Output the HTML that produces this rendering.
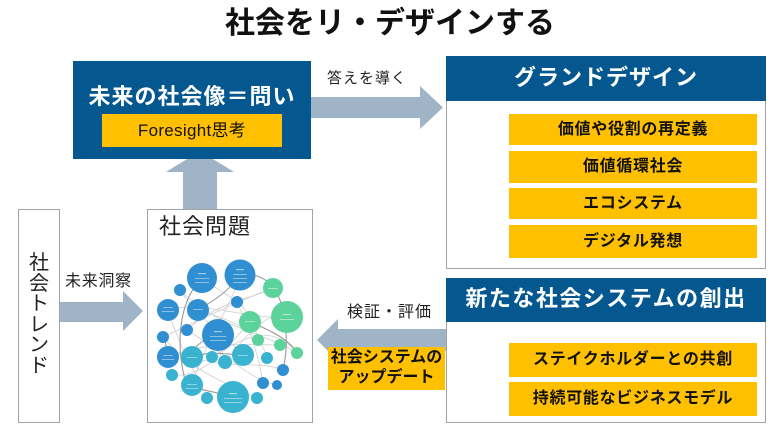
<!DOCTYPE html>
<html><head><meta charset="utf-8">
<style>
html,body{margin:0;padding:0;background:#fff;}
body{width:780px;height:429px;position:relative;overflow:hidden;font-family:"Liberation Sans","Noto Sans CJK JP",sans-serif;}
.a{position:absolute;white-space:nowrap;}
.t{text-align:center;}
.blue{background:#04588f;}
.yel{background:#ffc000;}
.box{position:absolute;border:1px solid #a3a3a3;box-sizing:border-box;background:#fff;}
.bar{position:absolute;left:509px;width:248px;background:#ffc000;text-align:center;font-weight:bold;font-size:16px;letter-spacing:0.7px;color:#111;}
</style></head><body>

<div class="a t" style="left:0;width:780px;top:6px;font-size:30px;line-height:36px;font-weight:bold;color:#111;">社会をリ・デザインする</div>

<!-- Grand design box -->
<div class="box" style="left:446px;top:56px;width:320px;height:213px;"></div>
<div class="a blue t" style="left:446px;top:56px;width:320px;height:45px;line-height:44px;color:#fff;font-weight:bold;font-size:22px;letter-spacing:1px;">グランドデザイン</div>
<div class="bar" style="top:114px;height:31px;line-height:31px;">価値や役割の再定義</div>
<div class="bar" style="top:151px;height:32px;line-height:32px;">価値循環社会</div>
<div class="bar" style="top:188px;height:31px;line-height:31px;">エコシステム</div>
<div class="bar" style="top:225px;height:33px;line-height:33px;">デジタル発想</div>

<!-- New social system box -->
<div class="box" style="left:446px;top:278px;width:320px;height:145px;"></div>
<div class="a blue t" style="left:446px;top:278px;width:320px;height:44px;line-height:42px;color:#fff;font-weight:bold;font-size:22px;letter-spacing:1.5px;">新たな社会システムの創出</div>
<div class="bar" style="top:343px;height:34px;line-height:34px;">ステイクホルダーとの共創</div>
<div class="bar" style="top:382px;height:34px;line-height:34px;">持続可能なビジネスモデル</div>

<!-- Social trend box -->
<div class="box" style="left:18px;top:209px;width:42px;height:214px;"></div>
<div class="a t" style="left:18px;width:42px;top:253px;font-size:20px;line-height:20.5px;color:#222;white-space:normal;">社<br>会<br>ト<br>レ<br>ン<br>ド</div>

<!-- Social problem box -->
<div class="box" style="left:147px;top:209px;width:166px;height:214px;"></div>
<div class="a" style="left:159px;top:213px;font-size:22px;line-height:28px;color:#222;letter-spacing:1px;">社会問題</div>

<svg class="a" style="left:0;top:0;" width="780" height="429" viewBox="0 0 780 429">
  <g fill="#9fb4c6">
    <polygon points="311,97 420,97 420,86 443,107.5 420,129 420,118 311,118"/>
    <polygon points="183,209 183,172 166,172 200,151 234,172 217,172 217,209"/>
    <polygon points="60,302 123,302 123,291 143,311 123,331 123,322 60,322"/>
    <polygon points="446,329 338,329 338,319 317,340 338,361 338,351 446,351"/>
  </g>
  <!-- network lines -->
  <g fill="none" stroke="#cfcfcf" stroke-width="0.8">
    <path d="M168,310 C200,300 250,320 287,317"/>
    <path d="M180,290 C220,330 260,330 297,353"/>
    <path d="M163,337 C200,320 240,300 273,288"/>
    <path d="M168,357 C210,340 250,345 280,345"/>
    <path d="M192,357 C230,370 260,360 283,370"/>
    <path d="M172,375 C210,380 240,330 250,322"/>
    <path d="M187,330 C220,350 250,380 277,385"/>
    <path d="M202,278 C230,300 250,300 258,340"/>
    <path d="M240,275 C230,310 210,330 192,385"/>
    <path d="M163,337 C190,370 220,380 257,398"/>
    <path d="M198,310 C230,320 260,330 267,358"/>
    <path d="M212,357 C240,340 270,320 297,353"/>
    <path d="M225,362 C250,330 270,310 287,317"/>
    <path d="M168,310 C180,350 200,380 207,398"/>
    <path d="M237,302 C250,330 260,360 263,383"/>
    <path d="M180,290 C200,320 230,340 243,355"/>
    <path d="M273,288 C250,300 220,300 187,330"/>
  </g>
  <g fill="none" stroke="#9a9a9a" stroke-width="1.1">
    <path d="M202,278 C180,300 175,340 185,380"/>
    <path d="M240,275 C270,270 280,300 273,288"/>
    <path d="M250,322 C270,330 290,340 297,353"/>
    <path d="M192,357 C210,350 230,355 243,355"/>
    <path d="M233,397 C210,390 195,390 192,385"/>
    <path d="M168,357 C165,345 165,330 163,337"/>
    <path d="M218,335 C200,340 190,350 192,357"/>
    <path d="M273,288 C285,300 290,340 283,370"/>
    <path d="M240,275 C230,290 215,300 198,310"/>
  </g>
  <!-- circles -->
  <g fill="#2f8fd0">
    <circle cx="202" cy="278" r="15"/>
    <circle cx="240" cy="275" r="15.5"/>
    <circle cx="180" cy="290" r="6"/>
    <circle cx="168" cy="310" r="11"/>
    <circle cx="198" cy="310" r="11"/>
    <circle cx="237" cy="302" r="6"/>
    <circle cx="218" cy="335" r="16"/>
    <circle cx="187" cy="330" r="6"/>
    <circle cx="163" cy="337" r="6"/>
    <circle cx="168" cy="357" r="11"/>
    <circle cx="263" cy="383" r="6"/>
    <circle cx="283" cy="370" r="6"/>
    <circle cx="277" cy="385" r="5"/>
  </g>
  <g fill="#39b3cf">
    <circle cx="192" cy="357" r="11"/>
    <circle cx="212" cy="357" r="6"/>
    <circle cx="225" cy="362" r="7"/>
    <circle cx="243" cy="355" r="11"/>
    <circle cx="267" cy="358" r="6"/>
    <circle cx="172" cy="375" r="6"/>
    <circle cx="192" cy="385" r="11"/>
    <circle cx="233" cy="397" r="16"/>
    <circle cx="207" cy="398" r="6"/>
    <circle cx="257" cy="398" r="6"/>
  </g>
  <g fill="#5cd39a">
    <circle cx="273" cy="288" r="10"/>
    <circle cx="287" cy="317" r="16"/>
    <circle cx="250" cy="322" r="11"/>
    <circle cx="258" cy="340" r="6"/>
    <circle cx="280" cy="345" r="6"/>
    <circle cx="297" cy="353" r="6"/>
  </g>
  <!-- tiny labels -->
  <g fill="#ffffff" opacity="0.55">
    <rect x="198" y="273" width="8" height="1.2"/><rect x="195" y="278" width="14" height="0.8"/><rect x="195" y="282" width="14" height="0.8"/>
    <rect x="236" y="269" width="8" height="1.2"/><rect x="233" y="274" width="14" height="0.8"/><rect x="233" y="278" width="14" height="0.8"/><rect x="233" y="282" width="14" height="0.8"/>
    <rect x="214" y="331" width="8" height="1.2"/><rect x="210" y="336" width="16" height="0.8"/><rect x="210" y="340" width="16" height="0.8"/>
    <rect x="229" y="393" width="8" height="1.2"/><rect x="224" y="398" width="18" height="0.8"/><rect x="224" y="402" width="18" height="0.8"/>
    <rect x="283" y="314" width="8" height="1"/><rect x="280" y="319" width="14" height="0.8"/>
    <rect x="163" y="307" width="10" height="0.8"/><rect x="162" y="311" width="12" height="0.8"/>
    <rect x="193" y="309" width="10" height="0.8"/>
    <rect x="163" y="355" width="10" height="0.8"/><rect x="162" y="359" width="12" height="0.8"/>
    <rect x="187" y="357" width="10" height="0.8"/>
    <rect x="238" y="355" width="10" height="0.8"/>
    <rect x="187" y="384" width="10" height="0.8"/><rect x="186" y="388" width="12" height="0.8"/>
    <rect x="245" y="321" width="10" height="0.8"/>
    <rect x="268" y="288" width="10" height="0.8"/>
  </g>
</svg>

<!-- top-left blue box -->
<div class="a blue" style="left:73px;top:61px;width:238px;height:98px;"></div>
<div class="a t" style="left:73px;top:83px;width:238px;font-size:22px;line-height:28px;font-weight:bold;color:#fff;letter-spacing:1px;">未来の社会像＝問い</div>
<div class="a yel t" style="left:102px;top:114px;width:180px;height:33px;line-height:33px;font-size:17px;color:#111;letter-spacing:0.3px;">Foresight思考</div>

<div class="a" style="left:327px;top:69px;font-size:15px;line-height:20px;color:#222;letter-spacing:1px;">答えを導く</div>
<div class="a" style="left:65px;top:271px;font-size:16px;line-height:22px;color:#222;letter-spacing:0.7px;">未来洞察</div>
<div class="a" style="left:347px;top:302px;font-size:16px;line-height:22px;color:#222;letter-spacing:1px;">検証・評価</div>

<div class="a yel t" style="left:328px;top:347px;width:117px;height:43px;font-size:16px;line-height:20px;font-weight:bold;color:#111;padding-top:1px;box-sizing:border-box;white-space:normal;">社会システムの<br>アップデート</div>

</body></html>
